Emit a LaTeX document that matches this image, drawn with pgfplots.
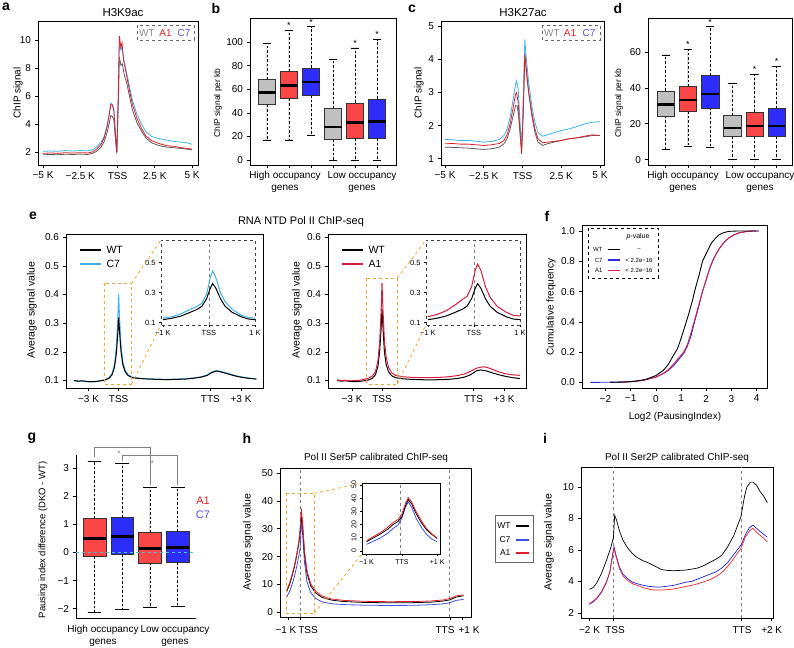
\documentclass[border=0pt]{standalone}
\usepackage{fontspec}
\setmainfont{Liberation Sans}
\usepackage{pgfplots}
\pgfplotsset{compat=1.18}
\usepgfplotslibrary{statistics}
\definecolor{wtg}{RGB}{90,90,90}
\definecolor{aone}{RGB}{228,30,40}
\definecolor{cseven}{RGB}{60,178,232}
\definecolor{legblue}{RGB}{80,80,235}
\definecolor{legwt}{RGB}{140,140,140}
\definecolor{crim}{RGB}{215,30,60}
\definecolor{boxgray}{RGB}{192,192,192}
\definecolor{boxred}{RGB}{250,70,70}
\definecolor{boxblue}{RGB}{45,45,250}
\definecolor{orng}{RGB}{240,165,50}
\definecolor{fblue}{RGB}{40,40,220}
\definecolor{fred}{RGB}{225,30,70}
\definecolor{hblue}{RGB}{60,80,230}
\definecolor{iblue}{RGB}{30,30,230}
\definecolor{ired}{RGB}{240,40,40}
\definecolor{gzero}{RGB}{70,200,210}
\pgfplotsset{
  base/.style={scale only axis, anchor=south west, clip mode=individual,
    axis line style={line width=0.7pt}, tick align=outside,
    major tick length=3.5pt, tick style={solid,line width=0.6pt,black},
    tick label style={font=\fontsize{10}{12}\selectfont},
    /pgf/number format/assume math mode=true,
    xtick pos=bottom, ytick pos=left},
  bp/.style={boxplot/draw direction=y,
    boxplot/box extend=0.78, boxplot/whisker extend=0.38,
    boxplot/every median/.style={line width=2.6pt,black},
    boxplot/every whisker/.style={black,line width=0.6pt},
    boxplot/draw/lower whisker/.code={%
      \draw[/pgfplots/boxplot/every whisker/.try, dash pattern=on 2.5pt off 2pt]
        (boxplot box cs:\pgfplotsboxplotvalue{lower quartile},0.5) --
        (boxplot box cs:\pgfplotsboxplotvalue{lower whisker},0.5);
      \draw[/pgfplots/boxplot/every whisker/.try, solid]
        (boxplot whisker cs:\pgfplotsboxplotvalue{lower whisker},0) --
        (boxplot whisker cs:\pgfplotsboxplotvalue{lower whisker},1);},
    boxplot/draw/upper whisker/.code={%
      \draw[/pgfplots/boxplot/every whisker/.try, dash pattern=on 2.5pt off 2pt]
        (boxplot box cs:\pgfplotsboxplotvalue{upper quartile},0.5) --
        (boxplot box cs:\pgfplotsboxplotvalue{upper whisker},0.5);
      \draw[/pgfplots/boxplot/every whisker/.try, solid]
        (boxplot whisker cs:\pgfplotsboxplotvalue{upper whisker},0) --
        (boxplot whisker cs:\pgfplotsboxplotvalue{upper whisker},1);}
  }
}
\newcommand\bxp[7]{\addplot[draw=black!80, line width=0.5pt, fill=#7, boxplot prepared={draw position=#1, lower whisker=#2, lower quartile=#3, median=#4, upper quartile=#5, upper whisker=#6}] coordinates {};}
\newcommand\lett{\bfseries\fontsize{14}{14}\selectfont}
\begin{document}
\begin{tikzpicture}
\useasboundingbox (0,0) rectangle (794pt,647pt);

% ---------------- a
\begin{axis}[base, at={(38pt,482pt)}, width=160pt, height=144pt,
  xmin=-5.34, xmax=5.40, ymin=1.07, ymax=11.36,
  xtick={-5,-2.5,0,2.5,5}, xticklabels={−5 K,−2.5 K,TSS,2.5 K,5 K},
  ytick={2,4,6,8,10}]
\addplot[wtg, line width=0.8pt] coordinates {(-5,1.8)(-4.5,1.82)(-4,1.8)(-3.5,1.84)(-3,1.82)(-2.5,1.85)(-2,1.82)(-1.7,1.9)(-1.4,2.05)(-1.1,2.35)(-0.9,2.75)(-0.7,3.4)(-0.55,4.1)(-0.45,4.6)(-0.35,4.55)(-0.25,4.3)(-0.15,3.0)(-0.05,1.9)(0.05,5.5)(0.12,8.8)(0.22,8.2)(0.32,8.3)(0.45,7.5)(0.6,7.0)(0.8,6.0)(1.0,5.0)(1.3,4.1)(1.6,3.5)(1.9,3.0)(2.3,2.65)(2.8,2.45)(3.3,2.35)(3.8,2.3)(4.3,2.25)(4.7,2.2)(5,2.15)};
\addplot[cseven, line width=0.8pt] coordinates {(-5,2.05)(-4.5,2.07)(-4,2.05)(-3.5,2.1)(-3,2.07)(-2.5,2.1)(-2,2.08)(-1.7,2.15)(-1.4,2.35)(-1.1,2.7)(-0.9,3.1)(-0.7,3.9)(-0.55,4.8)(-0.45,5.5)(-0.35,5.4)(-0.25,5.05)(-0.15,3.5)(-0.05,2.0)(0.05,6.0)(0.12,10.0)(0.22,9.3)(0.3,9.5)(0.4,8.7)(0.6,7.7)(0.8,6.7)(1.0,5.7)(1.3,4.7)(1.6,4.0)(1.9,3.45)(2.3,3.1)(2.8,2.95)(3.3,2.85)(3.8,2.75)(4.3,2.7)(4.7,2.65)(5,2.55)};
\addplot[aone, line width=0.8pt] coordinates {(-5,1.9)(-4.5,1.93)(-4,1.9)(-3.5,1.95)(-3,1.92)(-2.5,1.95)(-2,1.93)(-1.7,2.0)(-1.4,2.2)(-1.1,2.55)(-0.9,3.0)(-0.7,3.8)(-0.55,4.7)(-0.45,5.4)(-0.35,5.35)(-0.25,5.0)(-0.15,3.4)(-0.05,1.95)(0.05,6.0)(0.12,10.3)(0.22,9.5)(0.3,9.8)(0.4,8.6)(0.6,7.5)(0.8,6.4)(1.0,5.4)(1.3,4.4)(1.6,3.7)(1.9,3.15)(2.3,2.8)(2.8,2.6)(3.3,2.45)(3.8,2.4)(4.3,2.3)(4.7,2.25)(5,2.2)};
\end{axis}

% ---------------- b
\begin{axis}[base, bp, at={(250pt,482pt)}, width=146pt, height=147pt,
  xmin=0.23, xmax=6.86, ymin=-4.2, ymax=120.3,
  xtick={1,...,6}, xticklabels={}, ytick={0,20,...,100}]
\bxp{1}{17}{47}{57}{68}{99}{boxgray}
\bxp{2}{17}{52}{63}{75}{110}{boxred}
\bxp{3}{21}{55}{66}{78}{113}{boxblue}
\bxp{4}{0}{17.5}{28}{44}{85}{boxgray}
\bxp{5}{0}{18.4}{31.6}{48.5}{95}{boxred}
\bxp{6}{0}{18.4}{32.8}{51.7}{102}{boxblue}
\node[font=\fontsize{9}{9}\selectfont] at (axis cs:2,114) {*};
\node[font=\fontsize{9}{9}\selectfont] at (axis cs:3,116.5) {*};
\node[font=\fontsize{9}{9}\selectfont] at (axis cs:5,98.5) {*};
\node[font=\fontsize{9}{9}\selectfont] at (axis cs:6,106.5) {*};
\end{axis}

% ---------------- c
\begin{axis}[base, at={(441pt,482pt)}, width=163pt, height=144pt,
  xmin=-5.26, xmax=5.26, ymin=0.81, ymax=5.16,
  xtick={-5,-2.5,0,2.5,5}, xticklabels={−5 K,−2.5 K,TSS,2.5 K,5 K},
  ytick={1,2,3,4,5}]
\addplot[wtg, line width=0.8pt] coordinates {(-5,1.35)(-4.5,1.34)(-4,1.33)(-3.5,1.32)(-3,1.3)(-2.5,1.28)(-2,1.3)(-1.5,1.35)(-1.2,1.45)(-1,1.6)(-0.8,1.9)(-0.6,2.3)(-0.45,2.6)(-0.35,2.6)(-0.25,2.3)(-0.15,1.7)(-0.06,1.25)(0.05,2.5)(0.15,4.2)(0.25,3.7)(0.4,3.0)(0.6,2.3)(0.8,1.8)(1.0,1.5)(1.3,1.4)(1.6,1.45)(2,1.5)(2.5,1.55)(3,1.6)(3.5,1.63)(4,1.66)(4.5,1.7)(5,1.7)};
\addplot[cseven, line width=0.8pt] coordinates {(-5,1.58)(-4.5,1.57)(-4,1.55)(-3.5,1.55)(-3,1.53)(-2.5,1.5)(-2,1.52)(-1.5,1.58)(-1.2,1.7)(-1,1.88)(-0.8,2.25)(-0.6,2.8)(-0.45,3.25)(-0.38,3.35)(-0.28,3.1)(-0.17,2.2)(-0.06,1.3)(0.05,2.9)(0.15,4.6)(0.25,4.0)(0.4,3.3)(0.6,2.6)(0.8,2.1)(1.0,1.8)(1.3,1.68)(1.6,1.72)(2,1.78)(2.5,1.85)(3,1.9)(3.5,1.97)(4,2.05)(4.5,2.1)(5,2.12)};
\addplot[aone, line width=0.8pt] coordinates {(-5,1.45)(-4.5,1.46)(-4,1.44)(-3.5,1.44)(-3,1.42)(-2.5,1.4)(-2,1.42)(-1.5,1.46)(-1.2,1.55)(-1,1.72)(-0.8,2.05)(-0.6,2.55)(-0.45,2.95)(-0.38,3.0)(-0.28,2.7)(-0.17,1.9)(-0.06,1.15)(0.05,2.4)(0.15,4.15)(0.25,3.6)(0.4,3.0)(0.6,2.4)(0.8,1.9)(1.0,1.6)(1.3,1.48)(1.6,1.5)(2,1.52)(2.5,1.55)(3,1.6)(3.5,1.63)(4,1.68)(4.5,1.72)(5,1.7)};
\end{axis}

% ---------------- d
\begin{axis}[base, bp, at={(648pt,482pt)}, width=144pt, height=147pt,
  xmin=0.2, xmax=6.69, ymin=-3.0, ymax=79,
  xtick={1,...,6}, xticklabels={}, ytick={0,20,40,60}]
\bxp{1}{5.8}{24.4}{30.8}{38.4}{58.4}{boxgray}
\bxp{2}{7.5}{27}{33.2}{40.7}{61.6}{boxred}
\bxp{3}{6.7}{28.9}{36.6}{46.8}{74.3}{boxblue}
\bxp{4}{0}{13}{17.7}{24.8}{42.6}{boxgray}
\bxp{5}{0}{13}{18.7}{26.7}{47.4}{boxred}
\bxp{6}{0}{13}{18.8}{28.6}{52.1}{boxblue}
\node[font=\fontsize{9}{9}\selectfont] at (axis cs:2,64.5) {*};
\node[font=\fontsize{9}{9}\selectfont] at (axis cs:3,76.5) {*};
\node[font=\fontsize{9}{9}\selectfont] at (axis cs:5,50.3) {*};
\node[font=\fontsize{9}{9}\selectfont] at (axis cs:6,55) {*};
\end{axis}

% ---------------- e left
\begin{axis}[base, at={(66pt,259pt)}, width=197pt, height=154pt,
  xmin=-1.75, xmax=4.8, ymin=0.074, ymax=0.611,
  xtick={-1,0,3.05,4.07}, xticklabels={−3 K,TSS,TTS,+3 K},
  ytick={0.1,0.2,0.3,0.4,0.5,0.6}, yticklabels={0.1,0.2,0.3,0.4,0.5,0.6}]
\addplot[cseven, line width=1pt] coordinates {(-1.48,0.099)(-1.35,0.097)(-1.2,0.098)(-1.05,0.095)(-0.9,0.095)(-0.75,0.096)(-0.6,0.099)(-0.45,0.103)(-0.32,0.11)(-0.22,0.124)(-0.14,0.155)(-0.08,0.21)(-0.03,0.31)(0,0.40)(0.03,0.32)(0.08,0.22)(0.14,0.165)(0.22,0.135)(0.32,0.12)(0.45,0.112)(0.7,0.108)(1.0,0.106)(1.3,0.105)(1.6,0.104)(1.9,0.105)(2.2,0.106)(2.5,0.109)(2.75,0.113)(2.95,0.12)(3.1,0.13)(3.25,0.135)(3.4,0.132)(3.6,0.126)(3.8,0.12)(4.0,0.114)(4.3,0.109)(4.58,0.106)};
\addplot[black, line width=1pt] coordinates {(-1.48,0.100)(-1.35,0.098)(-1.2,0.099)(-1.05,0.097)(-0.9,0.096)(-0.75,0.097)(-0.6,0.099)(-0.45,0.102)(-0.32,0.108)(-0.22,0.12)(-0.14,0.145)(-0.08,0.19)(-0.03,0.26)(0,0.32)(0.03,0.27)(0.08,0.2)(0.14,0.155)(0.22,0.13)(0.32,0.117)(0.45,0.11)(0.7,0.107)(1.0,0.105)(1.3,0.104)(1.6,0.103)(1.9,0.104)(2.2,0.105)(2.5,0.108)(2.75,0.112)(2.95,0.118)(3.1,0.128)(3.25,0.133)(3.4,0.13)(3.6,0.124)(3.8,0.118)(4.0,0.113)(4.3,0.108)(4.58,0.105)};
\end{axis}

% ---------------- e right
\begin{axis}[base, at={(328pt,259pt)}, width=198pt, height=154pt,
  xmin=-1.8, xmax=4.8, ymin=0.074, ymax=0.611,
  xtick={-1,0,3.05,4.07}, xticklabels={−3 K,TSS,TTS,+3 K},
  ytick={0.1,0.2,0.3,0.4,0.5,0.6}, yticklabels={0.1,0.2,0.3,0.4,0.5,0.6}]
\addplot[black, line width=1pt] coordinates {(-1.5,0.100)(-1.35,0.098)(-1.2,0.099)(-1.05,0.097)(-0.9,0.096)(-0.75,0.097)(-0.6,0.099)(-0.45,0.102)(-0.32,0.108)(-0.22,0.12)(-0.14,0.147)(-0.08,0.2)(-0.03,0.28)(0,0.35)(0.03,0.29)(0.08,0.2)(0.14,0.155)(0.22,0.13)(0.32,0.117)(0.45,0.11)(0.7,0.106)(1.0,0.104)(1.3,0.103)(1.6,0.102)(1.9,0.103)(2.2,0.104)(2.5,0.107)(2.75,0.112)(2.95,0.12)(3.15,0.134)(3.3,0.137)(3.5,0.133)(3.7,0.126)(3.9,0.12)(4.1,0.115)(4.35,0.11)(4.6,0.107)};
\addplot[crim, line width=1pt] coordinates {(-1.5,0.102)(-1.35,0.1)(-1.2,0.101)(-1.05,0.099)(-0.9,0.1)(-0.75,0.101)(-0.6,0.104)(-0.45,0.108)(-0.32,0.116)(-0.22,0.13)(-0.14,0.165)(-0.08,0.23)(-0.03,0.34)(0,0.44)(0.03,0.35)(0.08,0.24)(0.14,0.18)(0.22,0.145)(0.32,0.127)(0.45,0.118)(0.7,0.113)(1.0,0.111)(1.3,0.11)(1.6,0.11)(1.9,0.111)(2.2,0.113)(2.5,0.117)(2.75,0.123)(2.95,0.132)(3.15,0.143)(3.35,0.148)(3.5,0.146)(3.7,0.138)(3.9,0.13)(4.1,0.124)(4.35,0.12)(4.6,0.118)};
\end{axis}

% ---------------- e insets
\begin{axis}[base, at={(161pt,322pt)}, width=94pt, height=85pt,
  xmin=-1.04, xmax=1.0, ymin=0.085, ymax=0.65,
  axis line style={dashed, black!75, line width=0.6pt},
  axis background/.style={fill=white},
  xtick={-1,0,1}, xticklabels={−1 K,TSS,1 K},
  ytick={0.1,0.3,0.5}, yticklabels={0.1,0.3,0.5},
  tick label style={font=\fontsize{7.5}{8}\selectfont}, major tick length=2pt]
\addplot[gray, dashed, line width=0.6pt] coordinates {(0,0.085)(0,0.65)};
\addplot[cseven, line width=1pt] coordinates {(-1,0.13)(-0.8,0.14)(-0.6,0.16)(-0.4,0.19)(-0.25,0.21)(-0.15,0.23)(-0.05,0.29)(0.03,0.4)(0.08,0.445)(0.15,0.4)(0.25,0.3)(0.35,0.24)(0.5,0.19)(0.7,0.15)(0.85,0.135)(1,0.13)};
\addplot[black, line width=1pt] coordinates {(-1,0.12)(-0.8,0.13)(-0.6,0.145)(-0.4,0.17)(-0.25,0.19)(-0.15,0.21)(-0.05,0.26)(0.03,0.33)(0.08,0.36)(0.15,0.33)(0.25,0.26)(0.35,0.21)(0.5,0.17)(0.7,0.14)(0.85,0.125)(1,0.12)};
\end{axis}
\begin{axis}[base, at={(426pt,322pt)}, width=94pt, height=85pt,
  xmin=-1.04, xmax=1.0, ymin=0.085, ymax=0.65,
  axis line style={dashed, black!75, line width=0.6pt},
  axis background/.style={fill=white},
  xtick={-1,0,1}, xticklabels={−1 K,TSS,1 K},
  ytick={0.1,0.3,0.5}, yticklabels={0.1,0.3,0.5},
  tick label style={font=\fontsize{7.5}{8}\selectfont}, major tick length=2pt]
\addplot[gray, dashed, line width=0.6pt] coordinates {(0,0.085)(0,0.65)};
\addplot[black, line width=1pt] coordinates {(-1,0.12)(-0.8,0.13)(-0.6,0.145)(-0.4,0.17)(-0.25,0.19)(-0.15,0.21)(-0.05,0.26)(0.03,0.33)(0.08,0.36)(0.15,0.33)(0.25,0.26)(0.35,0.21)(0.5,0.17)(0.7,0.14)(0.85,0.125)(1,0.12)};
\addplot[crim, line width=1pt] coordinates {(-1,0.14)(-0.8,0.155)(-0.6,0.18)(-0.4,0.22)(-0.25,0.255)(-0.15,0.275)(-0.05,0.34)(0.03,0.45)(0.08,0.49)(0.15,0.45)(0.25,0.34)(0.35,0.27)(0.5,0.21)(0.7,0.17)(0.85,0.15)(1,0.145)};
\end{axis}

% ---------------- f
\begin{axis}[base, at={(582pt,259pt)}, width=185pt, height=163pt,
  xmin=-2.93, xmax=4.41, ymin=-0.037, ymax=1.04,
  xtick={-2,...,4}, xticklabels={−2,−1,0,1,2,3,4},
  ytick={0,0.2,0.4,0.6,0.8,1.0}, yticklabels={0.0,0.2,0.4,0.6,0.8,1.0}]
\addplot[fblue, line width=0.9pt] coordinates {(-2.6,0)(-2,0.001)(-1.5,0.002)(-1,0.005)(-0.5,0.014)(0,0.035)(0.3,0.058)(0.5,0.08)(0.7,0.11)(0.9,0.15)(1.1,0.19)(1.25,0.24)(1.4,0.31)(1.55,0.41)(1.7,0.5)(1.85,0.6)(2.0,0.68)(2.15,0.76)(2.3,0.82)(2.5,0.88)(2.7,0.925)(2.9,0.955)(3.1,0.975)(3.3,0.988)(3.6,0.997)(3.8,1)(4.1,1)};
\addplot[fred, line width=0.9pt] coordinates {(-1.5,0)(-1,0.004)(-0.5,0.013)(0,0.035)(0.3,0.06)(0.5,0.085)(0.7,0.12)(0.9,0.16)(1.1,0.2)(1.25,0.25)(1.4,0.33)(1.55,0.42)(1.7,0.51)(1.85,0.6)(2.0,0.68)(2.15,0.76)(2.3,0.82)(2.5,0.88)(2.7,0.925)(2.9,0.955)(3.1,0.975)(3.3,0.988)(3.6,0.997)(3.8,1)(4.1,1)};
\addplot[black, line width=0.9pt] coordinates {(-1.8,0)(-1.2,0.003)(-0.8,0.008)(-0.4,0.02)(0,0.045)(0.3,0.08)(0.5,0.12)(0.7,0.18)(0.85,0.22)(1.0,0.29)(1.15,0.37)(1.3,0.45)(1.45,0.54)(1.55,0.61)(1.7,0.7)(1.85,0.8)(2.05,0.87)(2.2,0.92)(2.35,0.95)(2.5,0.975)(2.7,0.99)(2.9,0.998)(3.2,1)(4.0,1)};
\end{axis}

% ---------------- g
\begin{axis}[base, bp, at={(76pt,29pt)}, width=120pt, height=163pt,
  axis x line*=bottom, axis y line*=left,
  boxplot/box extend=0.82, boxplot/whisker extend=0.5,
  xmin=0.33, xmax=4.66, ymin=-2.33, ymax=3.47,
  xtick=\empty, ytick={-2,...,3}, yticklabels={−2,−1,0,1,2,3}]
\bxp{1}{-2.14}{-0.13}{0.5}{1.21}{3.24}{boxred}
\bxp{2}{-2.03}{-0.07}{0.56}{1.24}{3.18}{boxblue}
\bxp{3}{-1.94}{-0.37}{0.14}{0.71}{2.31}{boxred}
\bxp{4}{-1.91}{-0.34}{0.18}{0.74}{2.32}{boxblue}
\addplot[gzero, dashed, line width=0.8pt] coordinates {(0.33,0)(4.66,0)};
\draw[gray, line width=0.7pt] (axis cs:1.01,3.41) -- (axis cs:1.01,3.74) -- (axis cs:3.0,3.74) -- (axis cs:3.0,2.4);
\draw[gray, line width=0.7pt] (axis cs:2.0,3.25) -- (axis cs:2.0,3.44) -- (axis cs:4.0,3.44) -- (axis cs:4.0,2.4);
\node[gray, font=\fontsize{8}{8}\selectfont] at (axis cs:1.88,3.5) {*};
\node[gray, font=\fontsize{8}{8}\selectfont] at (axis cs:3.09,3.16) {*};
\end{axis}

% ---------------- h
\begin{axis}[base, at={(280pt,30pt)}, width=191pt, height=149pt,
  xmin=-1.67, xmax=13.7, ymin=-1.64, ymax=51.8,
  xtick={-1,0,12,13}, xticklabels={}, ytick={0,10,...,50}]
\addplot[gray, dashed, line width=0.8pt] coordinates {(0,-1.64)(0,51.8)};
\addplot[gray, dashed, line width=0.8pt] coordinates {(12,-1.64)(12,51.8)};
\addplot[hblue, line width=0.8pt] coordinates {(-1.13,5.5)(-0.9,7.5)(-0.7,10)(-0.5,13)(-0.3,17)(-0.15,20.5)(-0.05,23)(0.05,33)(0.15,28)(0.3,18)(0.5,11)(0.8,7.2)(1.2,5.0)(1.7,3.8)(2.5,3.1)(3.5,2.8)(5,2.6)(7,2.5)(9,2.55)(10.5,2.75)(11.5,3.1)(12,3.5)(12.5,4.3)(13.1,4.7)};
\addplot[black, line width=0.8pt] coordinates {(-1.13,7.5)(-0.9,10)(-0.7,13)(-0.5,16.5)(-0.3,21)(-0.15,25)(-0.05,29)(0.05,35)(0.15,31)(0.3,21)(0.5,14)(0.8,9.5)(1.2,7)(1.7,5.4)(2.5,4.4)(3.5,3.9)(5,3.6)(7,3.45)(9,3.5)(10.5,3.7)(11.5,4.1)(12,4.5)(12.5,5.5)(13.1,6.0)};
\addplot[aone, line width=0.8pt] coordinates {(-1.13,8)(-0.9,10.5)(-0.7,13.5)(-0.5,17)(-0.3,21.5)(-0.15,25.5)(-0.05,30)(0.05,37.3)(0.15,32)(0.3,22)(0.5,15)(0.8,10.3)(1.2,7.6)(1.7,5.9)(2.5,4.8)(3.5,4.3)(5,4.0)(7,3.85)(9,3.9)(10.5,4.1)(11.5,4.5)(12,5.0)(12.5,5.9)(13.1,6.3)};
\end{axis}
\begin{axis}[base, at={(362pt,93pt)}, width=78pt, height=71pt,
  xmin=-1.13, xmax=1.08, ymin=-2.3, ymax=51.5,
  axis background/.style={fill=white}, axis line style={line width=0.6pt},
  xtick={-1,0,1}, xticklabels={−1 K,TTS,+1 K},
  ytick={0,10,...,50}, yticklabel style={rotate=90},
  tick label style={font=\fontsize{7}{8}\selectfont}, major tick length=2pt]
\addplot[gray, dashed, line width=0.7pt] coordinates {(-0.04,-2.3)(-0.04,51.5)};
\addplot[hblue, line width=0.8pt] coordinates {(-1,5)(-0.8,7.5)(-0.6,10)(-0.4,13.5)(-0.25,17)(-0.1,20)(0,25)(0.1,33)(0.18,37.3)(0.28,33)(0.4,25)(0.55,18)(0.7,12.5)(0.85,9)(1,7)};
\addplot[black, line width=0.8pt] coordinates {(-1,7)(-0.8,10)(-0.6,13)(-0.4,16.5)(-0.25,20)(-0.1,22.5)(0,26)(0.1,34)(0.18,39)(0.28,35.5)(0.4,28.5)(0.55,21.5)(0.7,16)(0.85,12.5)(1,9.5)};
\addplot[aone, line width=0.8pt] coordinates {(-1,7.8)(-0.8,11)(-0.6,14)(-0.4,18)(-0.25,21.5)(-0.1,24)(0,28)(0.1,36)(0.18,40.4)(0.28,37)(0.4,30)(0.55,23)(0.7,17)(0.85,13)(1,9.6)};
\end{axis}

% ---------------- i
\begin{axis}[base, at={(581pt,29pt)}, width=192pt, height=151pt,
  xmin=-2.7, xmax=13.27, ymin=1.68, ymax=11.26,
  xtick={-2,0,10.6,13.15}, xticklabels={}, ytick={2,4,6,8,10}]
\addplot[gray, dashed, line width=0.8pt] coordinates {(0,1.68)(0,11.26)};
\addplot[gray, dashed, line width=0.8pt] coordinates {(10.6,1.68)(10.6,11.26)};
\addplot[black, line width=0.7pt] coordinates {(-2,3.5)(-1.7,3.6)(-1.4,3.9)(-1,4.5)(-0.6,5.3)(-0.2,6.2)(0,6.8)(0.1,8.2)(0.25,7.9)(0.5,7.2)(0.8,6.6)(1.2,6.1)(1.6,5.75)(2,5.5)(2.5,5.3)(3,5.15)(3.5,4.95)(4,4.75)(4.5,4.7)(5,4.68)(5.5,4.7)(6,4.72)(6.5,4.78)(7,4.85)(7.5,5.0)(8,5.2)(8.5,5.4)(9,5.65)(9.5,6.2)(10,6.9)(10.6,8.1)(10.9,9.4)(11.1,10.0)(11.4,10.3)(11.6,10.3)(11.9,10.1)(12.2,9.7)(12.5,9.4)(12.8,9.0)};
\addplot[iblue, line width=0.7pt] coordinates {(-2,2.55)(-1.7,2.7)(-1.4,2.9)(-1,3.3)(-0.6,3.9)(-0.3,4.6)(-0.1,5.6)(0.05,6.2)(0.2,5.7)(0.5,4.9)(0.8,4.45)(1.2,4.15)(1.6,3.95)(2,3.85)(2.5,3.75)(3,3.68)(3.5,3.65)(4,3.65)(4.5,3.7)(5,3.75)(5.5,3.85)(6,3.95)(6.5,4.0)(7,4.15)(7.5,4.3)(8,4.45)(8.5,4.6)(9,4.85)(9.5,5.2)(10,5.7)(10.6,6.3)(11,7.0)(11.3,7.4)(11.6,7.58)(12,7.3)(12.4,7.05)(12.8,6.8)};
\addplot[ired, line width=0.7pt] coordinates {(-2,2.6)(-1.7,2.75)(-1.4,2.95)(-1,3.35)(-0.6,3.95)(-0.3,4.6)(-0.1,5.5)(0.05,6.1)(0.2,5.6)(0.5,4.8)(0.8,4.35)(1.2,4.05)(1.6,3.85)(2,3.75)(2.5,3.6)(3,3.5)(3.5,3.45)(4,3.45)(4.5,3.48)(5,3.52)(5.5,3.6)(6,3.68)(6.5,3.75)(7,3.85)(7.5,3.98)(8,4.1)(8.5,4.3)(9,4.55)(9.5,4.95)(10,5.45)(10.6,6.1)(11,6.85)(11.3,7.2)(11.6,7.37)(12,7.05)(12.4,6.8)(12.8,6.5)};
\end{axis}

% ---------------- annotations (pixel coordinates)
\begin{scope}[x=1pt,y=-1pt,yshift=647pt]
% letters
\node[font=\lett] at (6,7) {a};
\node[font=\lett] at (216,9) {b};
\node[font=\lett] at (412,9) {c};
\node[font=\lett] at (618,9) {d};
\node[font=\lett] at (33,216) {e};
\node[font=\lett] at (547,216) {f};
\node[font=\lett] at (32,438) {g};
\node[font=\lett] at (247,438) {h};
\node[font=\lett] at (545,438) {i};
% titles
\node[font=\fontsize{11.5}{12}\selectfont] at (123,13) {H3K9ac};
\node[font=\fontsize{11.5}{12}\selectfont] at (523,13) {H3K27ac};
\node[font=\fontsize{11}{12}\selectfont] at (301,222) {RNA NTD Pol II ChIP-seq};
\node[font=\fontsize{10}{12}\selectfont] at (376,458) {Pol II Ser5P calibrated ChIP-seq};
\node[font=\fontsize{10}{12}\selectfont] at (677,458) {Pol II Ser2P calibrated ChIP-seq};
% y labels
\node[rotate=90, font=\fontsize{10}{12}\selectfont] at (18,93) {ChIP signal};
\node[rotate=90, font=\fontsize{10}{12}\selectfont] at (419,93) {ChIP signal};
\node[rotate=90, font=\fontsize{8.5}{10}\selectfont] at (218,103) {ChIP signal per kb};
\node[rotate=90, font=\fontsize{8.5}{10}\selectfont] at (619,103) {ChIP signal per kb};
\node[rotate=90, font=\fontsize{10.5}{12}\selectfont] at (32,310) {Average signal value};
\node[rotate=90, font=\fontsize{10.5}{12}\selectfont] at (297,310) {Average signal value};
\node[rotate=90, font=\fontsize{10}{12}\selectfont] at (551,307) {Cumulative frequency};
\node[rotate=90, font=\fontsize{9.5}{12}\selectfont] at (43,540) {Pausing index difference (DKO - WT)};
\node[rotate=90, font=\fontsize{10.5}{12}\selectfont] at (248,542) {Average signal value};
\node[rotate=90, font=\fontsize{10.5}{12}\selectfont] at (549,542) {Average signal value};
% x labels
\node[font=\fontsize{10}{12}\selectfont, align=center] at (285,182) {High occupancy\\genes};
\node[font=\fontsize{10}{12}\selectfont, align=center] at (362,182) {Low occupancy\\genes};
\node[font=\fontsize{10}{12}\selectfont, align=center] at (683,182) {High occupancy\\genes};
\node[font=\fontsize{10}{12}\selectfont, align=center] at (760,182) {Low occupancy\\genes};
\node[font=\fontsize{10}{12}\selectfont, align=center] at (103,636) {High occupancy\\genes};
\node[font=\fontsize{10}{12}\selectfont, align=center] at (175,636) {Low occupancy\\genes};
\node[font=\fontsize{10}{12}\selectfont] at (675,417) {Log2 (PausingIndex)};
\node[font=\fontsize{10}{12}\selectfont] at (286,630) {−1 K};
\node[font=\fontsize{10}{12}\selectfont] at (308,630) {TSS};
\node[font=\fontsize{10}{12}\selectfont] at (445,630) {TTS};
\node[font=\fontsize{10}{12}\selectfont] at (469,630) {+1 K};
\node[font=\fontsize{10}{12}\selectfont] at (589.5,630) {−2 K};
\node[font=\fontsize{10}{12}\selectfont] at (615,630) {TSS};
\node[font=\fontsize{10}{12}\selectfont] at (742,630) {TTS};
\node[font=\fontsize{10}{12}\selectfont] at (771.7,630) {+2 K};
% legends a, c
\draw[dashed, black!60, line width=0.5pt] (137,25) rectangle (194,40);
\node[legwt, font=\fontsize{10}{12}\selectfont] at (147,33) {WT};
\node[aone, font=\fontsize{10}{12}\selectfont] at (165.5,33) {A1};
\node[legblue, font=\fontsize{10}{12}\selectfont] at (184,33) {C7};
\draw[dashed, black!60, line width=0.5pt] (542,25) rectangle (600,40);
\node[legwt, font=\fontsize{10}{12}\selectfont] at (552,33) {WT};
\node[aone, font=\fontsize{10}{12}\selectfont] at (570,33) {A1};
\node[legblue, font=\fontsize{10}{12}\selectfont] at (589,33) {C7};
% legends e
\draw[black, line width=1.4pt] (80,250) -- (101,250);
\node[anchor=west, font=\fontsize{10.5}{12}\selectfont] at (103,250) {WT};
\draw[cseven, line width=1.4pt] (80,264) -- (101,264);
\node[anchor=west, font=\fontsize{10.5}{12}\selectfont] at (103,264) {C7};
\draw[black, line width=1.4pt] (342,250) -- (363,250);
\node[anchor=west, font=\fontsize{10.5}{12}\selectfont] at (365,250) {WT};
\draw[crim, line width=1.4pt] (342,264) -- (363,264);
\node[anchor=west, font=\fontsize{10.5}{12}\selectfont] at (365,264) {A1};
% zoom boxes
\draw[orng, dashed, line width=0.8pt] (104.3,283.3) rectangle (131.5,384.3);
\draw[orng, dashed, line width=0.8pt] (131.5,283.3) -- (161,240);
\draw[orng, dashed, line width=0.8pt] (131.5,384.3) -- (161,325);
\draw[orng, dashed, line width=0.8pt] (366.7,278) rectangle (397.3,384);
\draw[orng, dashed, line width=0.8pt] (397.3,278) -- (426,240);
\draw[orng, dashed, line width=0.8pt] (397.3,384) -- (426,325);
\draw[orng, dashed, line width=0.8pt] (286,493.3) rectangle (314.3,613.3);
\draw[orng, dashed, line width=0.8pt] (314.3,493.3) -- (362,483);
\draw[orng, dashed, line width=0.8pt] (314.3,613.3) -- (362,554);
% legend f
\draw[dashed, line width=0.6pt] (588,228) rectangle (658,278);
\node[font=\fontsize{7}{8}\selectfont] at (638,237) {\textit{p}-value};
\node[anchor=east, font=\fontsize{6}{7}\selectfont] at (606,249.7) {WT};
\draw[black, line width=1.2pt] (607.5,249.7) -- (620,249.7);
\node[font=\fontsize{6}{7}\selectfont] at (639,249.7) {–};
\node[anchor=east, font=\fontsize{6}{7}\selectfont] at (606,260) {C7};
\draw[fblue, line width=1.2pt] (607.5,260) -- (620,260);
\node[font=\fontsize{6}{7}\selectfont] at (639,260) {< 2.2e−16};
\node[anchor=east, font=\fontsize{6}{7}\selectfont] at (606,270.3) {A1};
\draw[fred, line width=1.2pt] (607.5,270.3) -- (620,270.3);
\node[font=\fontsize{6}{7}\selectfont] at (639,270.3) {< 2.2e−16};
% legend g
\node[aone, font=\fontsize{11}{12}\selectfont] at (203,501) {A1};
\node[legblue, font=\fontsize{11}{12}\selectfont] at (203,515) {C7};
% legend h
\draw[black!60, line width=0.5pt] (495,515) rectangle (533,562);
\node[anchor=east, font=\fontsize{8.5}{10}\selectfont] at (514,526) {WT};
\draw[black, line width=1.1pt] (516,526) -- (529,526);
\node[anchor=east, font=\fontsize{8.5}{10}\selectfont] at (514,540) {C7};
\draw[hblue, line width=1.1pt] (516,540) -- (529,540);
\node[anchor=east, font=\fontsize{8.5}{10}\selectfont] at (514,553) {A1};
\draw[aone, line width=1.1pt] (516,553) -- (529,553);
\end{scope}
\end{tikzpicture}
\end{document}
